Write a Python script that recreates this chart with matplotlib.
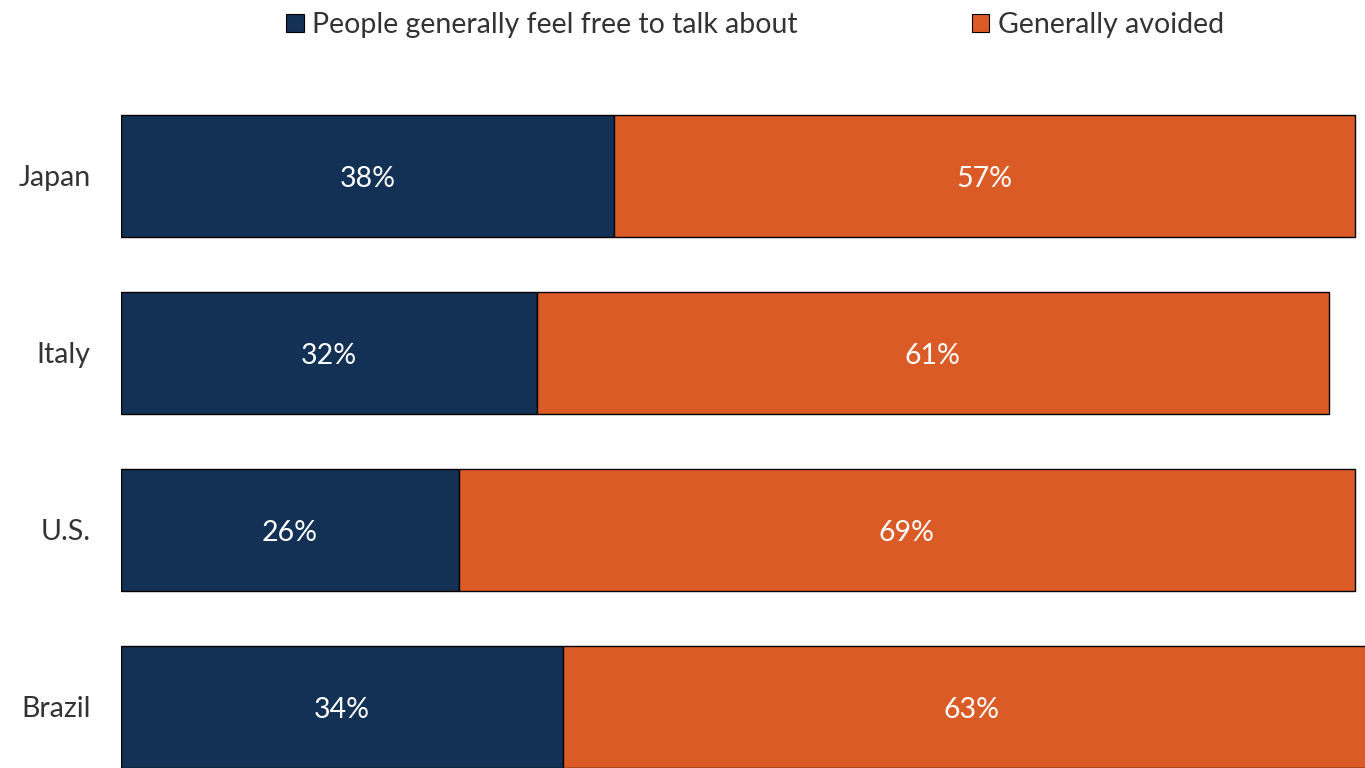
import matplotlib.pyplot as plt
from matplotlib.patches import Patch

countries = ['Japan', 'Italy', 'U.S.', 'Brazil']
free_talk = [38, 32, 26, 34]
avoided = [57, 61, 69, 63]
series_names = ['People generally feel free to talk about', 'Generally avoided']

NAVY = '#133155'
ORANGE = '#DB5B26'
TXT = '#333333'

plt.rcParams['font.family'] = ['Lato', 'DejaVu Sans']

fig = plt.figure(figsize=(13.65, 7.68), dpi=100)
ax = fig.add_axes([121 / 1365, 0, 1 - 121 / 1365, 708 / 768])

ypos = list(range(len(countries)))
b1 = ax.barh(ypos, free_talk, height=0.69, color=NAVY, edgecolor='black', linewidth=1)
b2 = ax.barh(ypos, avoided, left=free_talk, height=0.69, color=ORANGE,
             edgecolor='black', linewidth=1)

for bars, vals, lefts in [(b1, free_talk, [0] * 4), (b2, avoided, free_talk)]:
    for y, v, l in zip(ypos, vals, lefts):
        ax.text(l + v / 2, y + 0.015, f'{v}%', ha='center', va='center',
                color='white', fontsize=20.5)

ax.set_xlim(0, 95.8)
ax.set_ylim(3.345, -0.655)
ax.set_yticks(ypos)
ax.set_yticklabels(countries, fontsize=20.5, color=TXT)
ax.tick_params(axis='y', length=0, pad=22)
ax.set_xticks([])
for s in ax.spines.values():
    s.set_visible(False)

handles = [Patch(facecolor=NAVY, edgecolor='black', linewidth=0.8),
           Patch(facecolor=ORANGE, edgecolor='black', linewidth=0.8)]
leg = fig.legend(handles, series_names, loc='upper center', ncol=2,
                 bbox_to_anchor=(755 / 1365, 1.018), frameon=False, fontsize=20.5,
                 handlelength=0.62, handleheight=0.62, handletextpad=0.3,
                 columnspacing=6.1)
for t in leg.get_texts():
    t.set_color(TXT)

fig.savefig('out.png', dpi=100)
